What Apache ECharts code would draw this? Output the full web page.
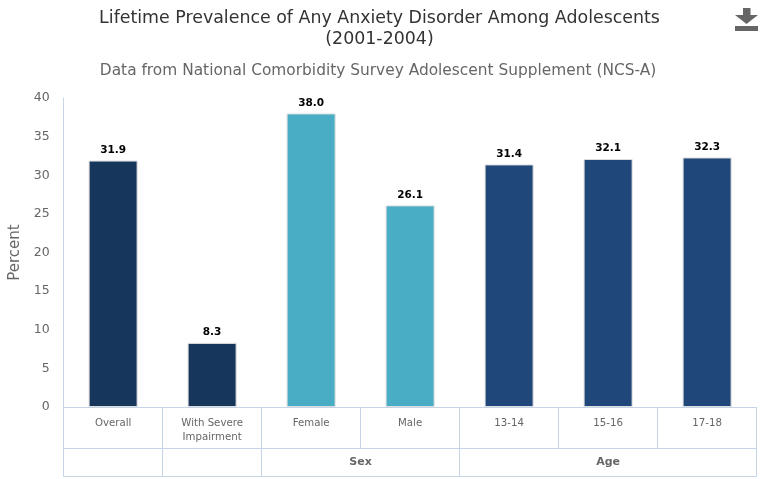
<!DOCTYPE html>
<html>
<head>
<meta charset="utf-8">
<style>html,body{margin:0;padding:0;background:#fff}#chart{width:761px;height:479px}</style>
<script src="https://cdn.jsdelivr.net/npm/echarts@6/dist/echarts.min.js"></script>
</head>
<body>
<div id="chart"></div>
<script>
// Lifetime prevalence values, one per bar
const categories = ['Overall', 'With Severe\nImpairment', 'Female', 'Male', '13-14', '15-16', '17-18'];
const prevalence = [31.9, 8.3, 38.0, 26.1, 31.4, 32.1, 32.3];
const groupOf = [0, 1, 2, 2, 3, 3, 3];
const groupNames = ['', '', 'Sex', 'Age'];
const groupSizes = [1, 1, 2, 3];
const yTicks = [0, 5, 10, 15, 20, 25, 30, 35, 40];

const barColors = ['#16365c', '#16365c', '#4aadc6', '#1f4779'];
const FONT = '"DejaVu Sans", sans-serif';
const LINE = '#c6d4e8';

// Cell boundaries and centres of the lower header row, in category units
const groupEdges = [0];
groupSizes.forEach(n => groupEdges.push(groupEdges[groupEdges.length - 1] + n));
const groupCentres = groupSizes.map((n, i) => groupEdges[i] + n / 2);

const rowAxis = (offset, extra) => Object.assign({
  type: 'value', position: 'bottom', min: 0, max: categories.length, offset,
  axisLine: { show: true, onZero: false, lineStyle: { color: LINE } },
  axisTick: { show: false }, axisLabel: { show: false }, splitLine: { show: false }
}, extra);

const chart = echarts.init(document.getElementById('chart'), null, { renderer: 'canvas' });
chart.setOption({
  animation: false,
  backgroundColor: '#fff',
  title: [
    {
      text: 'Lifetime Prevalence of Any Anxiety Disorder Among Adolescents\n(2001-2004)',
      left: 374.5, top: 3, textAlign: 'center',
      textStyle: { fontFamily: FONT, fontSize: 17.4, fontWeight: 'normal', color: '#333', lineHeight: 21 }
    },
    {
      text: 'Data from National Comorbidity Survey Adolescent Supplement (NCS-A)',
      left: 373, top: 58, textAlign: 'center',
      textStyle: { fontFamily: FONT, fontSize: 15.4, fontWeight: 'normal', color: '#666' }
    }
  ],
  grid: { left: 63.6, right: 4.4, top: 98, bottom: 72, outerBoundsMode: 'none' },
  xAxis: [
    {
      type: 'category', data: categories, position: 'bottom',
      axisLine: { lineStyle: { color: LINE } },
      axisTick: { show: true, length: 41, lineStyle: { color: LINE } },
      axisLabel: { fontFamily: FONT, fontSize: 10.2, color: '#666', margin: 9, lineHeight: 14, interval: 0 }
    },
    rowAxis(41, {
      axisTick: { show: true, length: 28, customValues: groupEdges, lineStyle: { color: LINE } },
      axisLabel: {
        show: true, customValues: groupCentres, margin: 9,
        fontFamily: FONT, fontSize: 11, fontWeight: 'bold', color: '#666',
        formatter: v => groupNames[groupCentres.indexOf(v)]
      }
    }),
    rowAxis(69)
  ],
  yAxis: {
    type: 'value', min: 0, max: 40, interval: yTicks[1] - yTicks[0],
    name: 'Percent', nameLocation: 'middle', nameGap: 41,
    nameTextStyle: { fontFamily: FONT, fontSize: 15, color: '#666' },
    axisLine: { show: true, lineStyle: { color: LINE } },
    axisTick: { show: false },
    splitLine: { show: false },
    axisLabel: { fontFamily: FONT, fontSize: 12.5, color: '#666', margin: 14 }
  },
  series: [{
    type: 'bar',
    xAxisIndex: 0,
    barWidth: 49,
    data: prevalence.map((v, i) => ({
      value: v,
      itemStyle: { color: barColors[groupOf[i]], borderColor: '#ddd', borderWidth: 1 }
    })),
    label: {
      show: true, position: 'top', distance: 5,
      fontFamily: FONT, fontSize: 10.5, fontWeight: 'bold', color: '#000',
      formatter: p => p.value.toFixed(1)
    }
  }],
  // Export button in the top right corner
  graphic: [{
    type: 'group', left: 735, top: 8,
    children: [
      { type: 'polygon', shape: { points: [[8, 0], [15.5, 0], [15.5, 7], [23, 7], [11.5, 16], [0, 7], [8, 7]] }, style: { fill: '#666' } },
      { type: 'rect', shape: { x: 0, y: 18, width: 23, height: 5 }, style: { fill: '#666' } }
    ]
  }]
});
</script>
</body>
</html>
